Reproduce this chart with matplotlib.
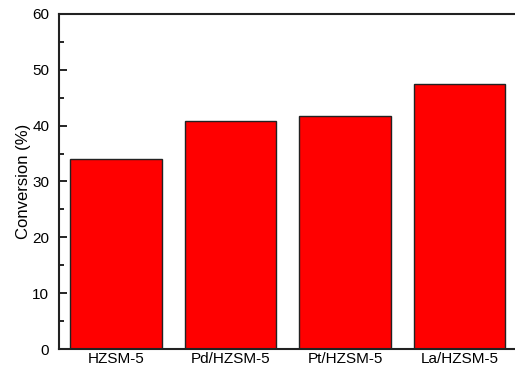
import matplotlib

matplotlib.use("Agg")
import matplotlib.pyplot as plt
from matplotlib.ticker import MultipleLocator

catalysts = ["HZSM-5", "Pd/HZSM-5", "Pt/HZSM-5", "La/HZSM-5"]
conversion = [34.0, 40.8, 41.8, 47.4]

plt.rcParams["font.family"] = ["Liberation Sans", "DejaVu Sans"]

fig = plt.figure(figsize=(5.15, 3.67), dpi=100, facecolor="white")
ax = fig.add_axes([0.1146, 0.049, 0.889, 0.913])

x = range(len(catalysts))
ax.bar(x, conversion, width=0.8, color="#ff0000", edgecolor="#222222", linewidth=1.0)

ax.set_xlim(-0.5, 3.5)
ax.set_ylim(0, 60)
ax.set_xticks(list(x))
ax.set_xticklabels(catalysts, fontsize=11)
ax.tick_params(axis="x", length=0, pad=2)
ax.yaxis.set_major_locator(MultipleLocator(10))
ax.yaxis.set_minor_locator(MultipleLocator(5))
ax.tick_params(axis="y", which="major", direction="in", length=6, width=1.2, labelsize=11, pad=7)
ax.tick_params(axis="y", which="minor", direction="in", length=3.5, width=1.2)
ax.set_ylabel("Conversion (%)", fontsize=12, labelpad=1)

for spine in ax.spines.values():
    spine.set_linewidth(1.5)
    spine.set_color("#222222")

fig.savefig("out.png", dpi=100)
